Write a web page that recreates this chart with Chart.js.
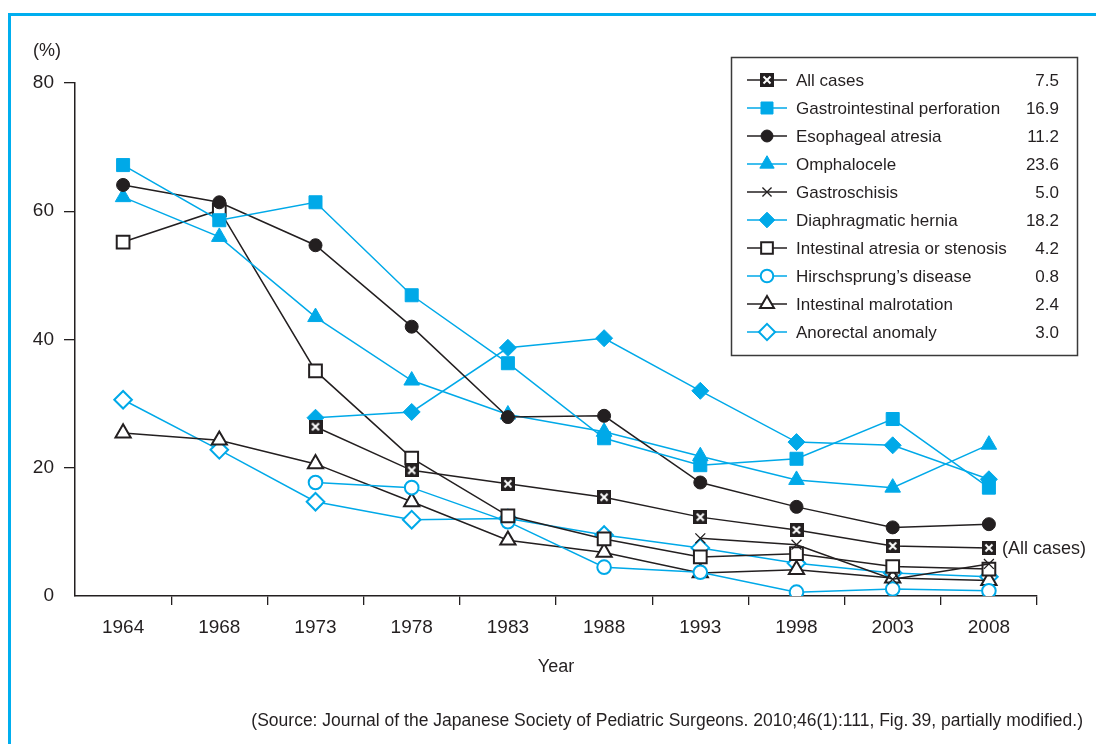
<!DOCTYPE html>
<html>
<head>
<meta charset="utf-8">
<title>Mortality by disease</title>
<script src="https://cdn.jsdelivr.net/npm/chart.js@4.4.0/dist/chart.umd.min.js"></script>
<style>
  html, body { margin: 0; padding: 0; background: #fff; overflow: hidden; }
  #wrap { position: relative; width: 1096px; height: 744px; overflow: hidden; }
  #frame { position: absolute; left: 8px; top: 13px; width: 1200px; height: 800px;
           border-top: 3px solid #00aeef; border-left: 3px solid #00aeef; }
  canvas { position: absolute; left: 0; top: 0; }
</style>
</head>
<body>
<div id="wrap">
  <div id="frame"></div>
  <canvas id="chart" width="1096" height="744"></canvas>
</div>
<script>
// years on the x axis
const years = ['1964', '1968', '1973', '1978', '1983', '1988', '1993', '1998', '2003', '2008'];
const yTicks = [0, 20, 40, 60, 80];

// mortality (%) per year
const allCases      = [null, null, 26.4, 19.6, 17.5, 15.4, 12.3, 10.3, 7.8, 7.5];
const giPerforation = [67.2, 58.6, 61.4, 46.9, 36.3, 24.6, 20.4, 21.4, 27.6, 16.9];
const esophageal    = [64.1, 61.4, 54.7, 42.0, 27.9, 28.1, 17.7, 13.9, 10.7, 11.2];
const omphalocele   = [62.2, 56.0, 43.5, 33.6, 28.3, 25.6, 21.8, 18.1, 16.9, 23.6];
const gastroschisis = [null, null, null, null, null, null, 9.0, 8.0, 2.6, 5.0];
const diaphragmatic = [null, null, 27.8, 28.7, 38.7, 40.2, 32.0, 24.0, 23.5, 18.2];
const intAtresia    = [55.2, 60.2, 35.1, 21.5, 12.5, 8.9, 6.1, 6.6, 4.6, 4.2];
const hirschsprung  = [null, null, 17.7, 16.9, 11.6, 4.5, 3.7, 0.6, 1.1, 0.8];
const malrotation   = [25.4, 24.3, 20.6, 14.7, 8.7, 6.8, 3.6, 4.1, 2.8, 2.4];
const anorectal     = [30.6, 22.8, 14.7, 11.9, 12.1, 9.5, 7.5, 5.1, 3.6, 3.0];

const INK = '#231f20';
const BLUE = '#00a9e8';
const FONT = '"Liberation Sans", Arial, Helvetica, sans-serif';

// black square with a white x, used for "All cases"
function boxCross() {
  const c = document.createElement('canvas');
  c.width = 14; c.height = 14;
  const g = c.getContext('2d');
  g.fillStyle = INK;
  g.fillRect(0, 0, 14, 14);
  g.strokeStyle = '#fff';
  g.lineWidth = 2;
  g.beginPath();
  g.moveTo(3.5, 3.5); g.lineTo(10.5, 10.5);
  g.moveTo(10.5, 3.5); g.lineTo(3.5, 10.5);
  g.stroke();
  return c;
}

function series(label, data, color, style, radius, open) {
  return {
    label: label,
    data: data,
    borderColor: color,
    borderWidth: 1.5,
    pointStyle: style,
    pointRadius: radius,
    pointBackgroundColor: open ? '#fff' : color,
    pointBorderColor: color,
    pointBorderWidth: open ? 2 : 1,
    fill: false,
    tension: 0
  };
}

const datasets = [
  series('All cases', allCases, INK, boxCross(), 7, false),
  series('Gastrointestinal perforation', giPerforation, BLUE, 'rect', 9.2, false),
  series('Esophageal atresia', esophageal, INK, 'circle', 6.5, false),
  series('Omphalocele', omphalocele, BLUE, 'triangle', 9, false),
  series('Gastroschisis', gastroschisis, INK, 'crossRot', 7, true),
  series('Diaphragmatic hernia', diaphragmatic, BLUE, 'rectRot', 8.5, false),
  series('Intestinal atresia or stenosis', intAtresia, INK, 'rect', 9, true),
  series('Hirschsprung\u2019s disease', hirschsprung, BLUE, 'circle', 6.8, true),
  series('Intestinal malrotation', malrotation, INK, 'triangle', 8.8, true),
  series('Anorectal anomaly', anorectal, BLUE, 'rectRot', 8.8, true)
];
datasets[4].pointBorderWidth = 1.3;

const legendBox = {
  id: 'legendBox',
  afterDraw(chart) {
    const ctx = chart.ctx;
    ctx.save();
    ctx.fillStyle = '#fff';
    ctx.fillRect(731, 57, 346, 298);
    ctx.strokeStyle = '#3a3a3a';
    ctx.lineWidth = 1.5;
    ctx.strokeRect(731.5, 57.5, 346, 298);
    chart.data.datasets.forEach((ds, i) => {
      const y = 80 + i * 28;
      ctx.strokeStyle = ds.borderColor;
      ctx.lineWidth = 1.5;
      ctx.beginPath();
      ctx.moveTo(747, y);
      ctx.lineTo(787, y);
      ctx.stroke();
      ctx.fillStyle = ds.pointBackgroundColor;
      ctx.strokeStyle = ds.pointBorderColor;
      ctx.lineWidth = ds.pointBorderWidth;
      Chart.helpers.drawPoint(ctx, {
        pointStyle: ds.pointStyle, rotation: 0,
        radius: ds.pointRadius * 0.92, borderWidth: ds.pointBorderWidth
      }, 767, y);
      ctx.fillStyle = INK;
      ctx.font = '17px ' + FONT;
      ctx.textBaseline = 'middle';
      ctx.textAlign = 'left';
      ctx.fillText(ds.label, 796, y + 1);
      ctx.textAlign = 'right';
      ctx.fillText(ds.data[ds.data.length - 1].toFixed(1), 1059, y + 1);
    });
    ctx.restore();
  }
};

const notes = {
  id: 'notes',
  afterDraw(chart) {
    const ctx = chart.ctx;
    const xs = chart.scales.x, ys = chart.scales.y;
    ctx.save();
    ctx.fillStyle = INK;
    ctx.textBaseline = 'middle';
    ctx.font = '18px ' + FONT;
    ctx.textAlign = 'center';
    ctx.fillText('(%)', 47, 51);
    ctx.fillText('Year', (chart.chartArea.left + chart.chartArea.right) / 2, 667);
    ctx.textAlign = 'left';
    const last = years.length - 1;
    ctx.fillText('(All cases)', xs.getPixelForValue(last) + 13, ys.getPixelForValue(allCases[last]) + 1);
    ctx.font = '17.5px ' + FONT;
    ctx.textAlign = 'right';
    ctx.fillText('(Source: Journal of the Japanese Society of Pediatric Surgeons. 2010;46(1):111, Fig.\u200939, partially modified.)', 1083, 721);
    ctx.restore();
  }
};

new Chart(document.getElementById('chart'), {
  type: 'line',
  data: { labels: years, datasets: datasets },
  options: {
    responsive: false,
    animation: false,
    events: [],
    layout: { padding: { top: 83, right: 59, bottom: 0, left: 0 } },
    plugins: { legend: { display: false }, tooltip: { enabled: false } },
    scales: {
      x: {
        type: 'category',
        offset: true,
        grid: {
          offset: true,
          drawOnChartArea: false,
          tickLength: 9,
          lineWidth: 1.3,
          color: c => c.index === 0 ? 'rgba(0,0,0,0)' : INK
        },
        border: { color: INK, width: 1.5 },
        ticks: { color: INK, font: { family: FONT, size: 19 }, padding: 11, maxRotation: 0 },
        afterFit: s => { s.height = 148; }
      },
      y: {
        min: 0,
        max: 80,
        afterBuildTicks: s => { s.ticks = yTicks.map(v => ({ value: v })); },
        grid: {
          drawOnChartArea: false,
          tickLength: 11,
          lineWidth: 1.3,
          color: c => (c.tick && c.tick.value === 0) ? 'rgba(0,0,0,0)' : INK
        },
        border: { color: INK, width: 1.5 },
        ticks: { color: INK, font: { family: FONT, size: 19 }, padding: 10 },
        afterFit: s => { s.width = 75; }
      }
    }
  },
  plugins: [legendBox, notes]
});
</script>
</body>
</html>
